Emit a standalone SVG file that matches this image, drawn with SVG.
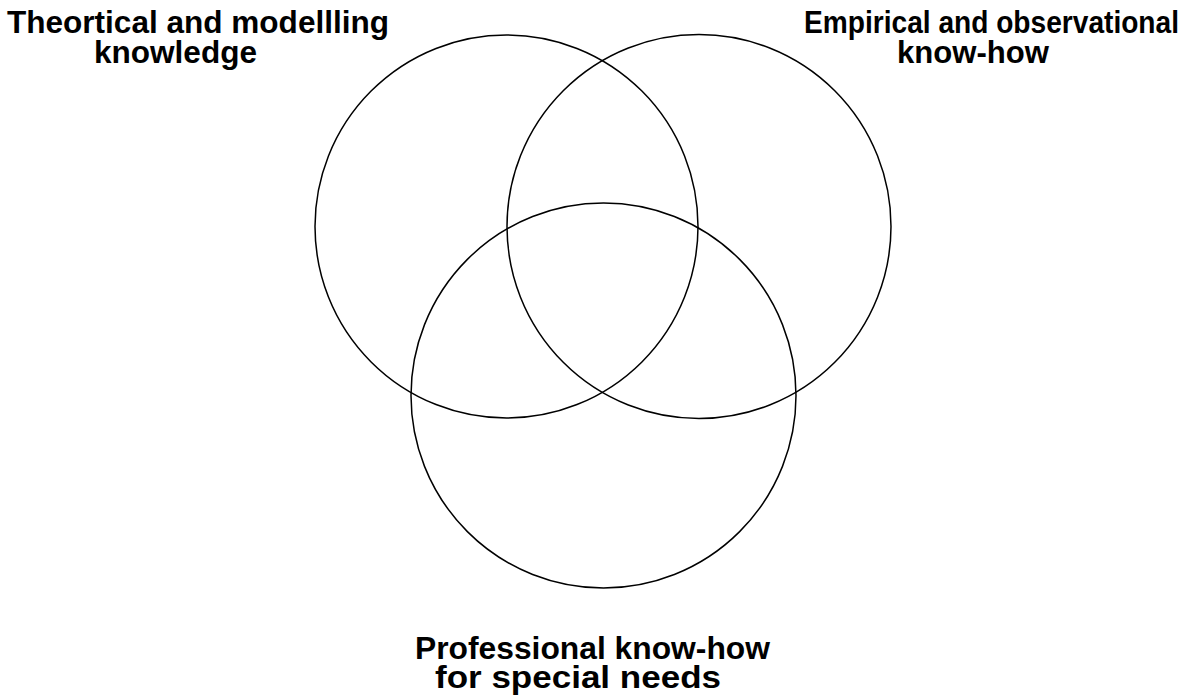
<svg xmlns="http://www.w3.org/2000/svg" width="1197" height="696" viewBox="0 0 1197 696">
  <style>
    .ring { fill: none; stroke: #000; stroke-width: 1.5; }
    .label { font-family: "Liberation Sans", Arial, sans-serif; font-weight: bold; font-size: 31px; fill: #000; }
  </style>
  <rect width="1197" height="696" fill="#fff"/>
  <g id="theory">
    <circle class="ring" cx="506.5" cy="226.5" r="191.5"/>
    <text class="label" x="7" y="33" textLength="382" lengthAdjust="spacingAndGlyphs">Theortical and modellling</text>
    <text class="label" x="94" y="63" textLength="163" lengthAdjust="spacingAndGlyphs">knowledge</text>
  </g>
  <g id="empirical">
    <circle class="ring" cx="699" cy="226.5" r="192"/>
    <text class="label" x="804" y="33" textLength="375" lengthAdjust="spacingAndGlyphs">Empirical and observational</text>
    <text class="label" x="897" y="63" textLength="152" lengthAdjust="spacingAndGlyphs">know-how</text>
  </g>
  <g id="professional">
    <circle class="ring" cx="603.5" cy="395.5" r="192.5"/>
    <text class="label" x="415" y="659" textLength="355" lengthAdjust="spacingAndGlyphs">Professional know-how</text>
    <text class="label" x="435" y="688" textLength="286" lengthAdjust="spacingAndGlyphs">for special needs</text>
  </g>
  <g id="connectors"/>
</svg>
